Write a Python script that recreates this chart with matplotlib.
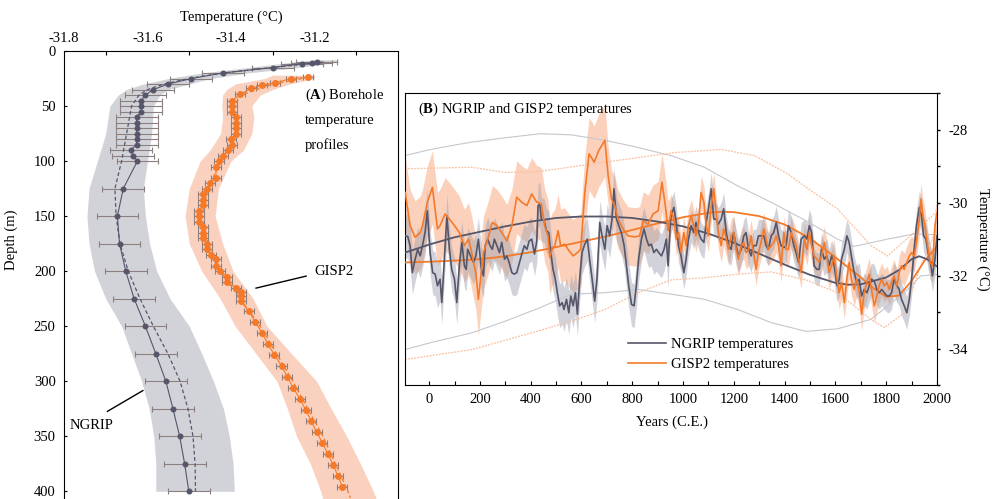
import numpy as np
import matplotlib
matplotlib.use("Agg")
import matplotlib.pyplot as plt
from matplotlib.ticker import MultipleLocator, FixedLocator

plt.rcParams["font.family"] = ["Liberation Serif", "DejaVu Serif"]
plt.rcParams["mathtext.fontset"] = "custom"
plt.rcParams["mathtext.rm"] = "Liberation Serif"
plt.rcParams["mathtext.bf"] = "Liberation Serif:bold"
plt.rcParams["axes.unicode_minus"] = False

# ---------------- Panel A: borehole temperature profiles ----------------
ngrip_depth = [10, 10.7, 11.5, 15, 20, 25, 30, 35, 40, 45, 50, 55, 60, 65, 70, 75, 80, 85,
               90, 95, 100, 125, 150, 175, 200, 225, 250, 275, 300, 325, 350, 375, 400]
ngrip_temp = [-31.195, -31.207, -31.23, -31.30, -31.42, -31.495, -31.55, -31.586, -31.605,
              -31.615, -31.615, -31.615, -31.626, -31.626, -31.626, -31.626, -31.626, -31.626,
              -31.64, -31.635, -31.624, -31.658, -31.672, -31.667, -31.652, -31.632, -31.605,
              -31.58, -31.556, -31.539, -31.523, -31.511, -31.501]
ngrip_xerr = 0.05

ngrip_fit_depth = [10, 15, 20, 25, 30, 35, 40, 50, 75, 100, 125, 150, 175, 200, 225, 250,
                   275, 300, 325, 350, 375, 400]
ngrip_fit_temp = [-31.18, -31.30, -31.42, -31.50, -31.56, -31.60, -31.62, -31.638, -31.65,
                  -31.662, -31.678, -31.675, -31.666, -31.646, -31.618, -31.586, -31.551,
                  -31.522, -31.503, -31.491, -31.486, -31.485]

ngrip_band_depth = [8, 10, 15, 20, 25, 30, 35, 40, 50, 75, 100, 125, 150, 175, 200, 225, 250,
                    275, 300, 325, 350, 375, 400]
ngrip_band_lo = [-31.20, -31.25, -31.36, -31.47, -31.55, -31.61, -31.65, -31.67, -31.69,
                 -31.70, -31.72, -31.74, -31.745, -31.74, -31.727, -31.70, -31.662, -31.638,
                 -31.614, -31.596, -31.585, -31.58, -31.58]
ngrip_band_hi = [-31.15, -31.14, -31.24, -31.36, -31.45, -31.50, -31.55, -31.57, -31.586,
                 -31.59, -31.60, -31.61, -31.605, -31.595, -31.578, -31.546, -31.50, -31.47,
                 -31.442, -31.418, -31.404, -31.395, -31.392]

gisp_depth = [24, 25, 29, 31, 34, 39.5, 45, 50, 55, 60, 65, 70, 75, 80, 85, 90, 95, 100, 105,
              115, 120, 125, 130, 135, 140, 145, 150, 155, 160, 165, 170, 175, 180, 185, 189,
              195, 200, 205, 210, 215, 219, 223, 227, 236, 246, 256, 266, 276, 286, 296, 306,
              316, 326, 336, 346, 356, 366, 376, 386, 396]
gisp_temp = [-31.215, -31.256, -31.295, -31.325, -31.353, -31.378, -31.397, -31.397, -31.397,
             -31.388, -31.388, -31.387, -31.387, -31.40, -31.397, -31.406, -31.418, -31.429,
             -31.436, -31.436, -31.45, -31.457, -31.467, -31.467, -31.467, -31.477, -31.477,
             -31.477, -31.467, -31.467, -31.467, -31.457, -31.457, -31.448, -31.437, -31.437,
             -31.426, -31.409, -31.409, -31.388, -31.377, -31.377, -31.377, -31.358, -31.342,
             -31.326, -31.312, -31.296, -31.279, -31.265, -31.251, -31.235, -31.221, -31.208,
             -31.195, -31.181, -31.168, -31.155, -31.144, -31.133]
gisp_xerr = 0.012

gisp_fit_depth = [24, 30, 40, 50, 75, 100, 125, 150, 175, 200, 225, 250, 300, 350, 400, 406]
gisp_fit_temp = [-31.215, -31.30, -31.375, -31.392, -31.385, -31.425, -31.455, -31.47,
                 -31.455, -31.425, -31.378, -31.33, -31.252, -31.18, -31.12, -31.114]

gisp_band_depth = [22, 25, 30, 35, 40, 50, 60, 75, 90, 100, 125, 150, 175, 200, 225, 250, 275,
                   300, 325, 350, 375, 400, 407]
gisp_band_lo = [-31.30, -31.32, -31.39, -31.41, -31.42, -31.422, -31.42, -31.425, -31.45,
                -31.474, -31.50, -31.51, -31.50, -31.47, -31.426, -31.39, -31.34, -31.29,
                -31.265, -31.243, -31.21, -31.185, -31.18]
gisp_band_hi = [-31.20, -31.20, -31.26, -31.30, -31.33, -31.35, -31.345, -31.35, -31.37,
                -31.40, -31.43, -31.438, -31.42, -31.395, -31.347, -31.314, -31.255, -31.195,
                -31.16, -31.123, -31.09, -31.059, -31.052]

# ---------------- Panel B: NGRIP and GISP2 temperature series ----------------
ngrip_years = [-94, -84, -75, -66, -55, -45, -35, -26, -16, -7, 4, 14, 24, 33, 43, 50, 60, 70,
               80, 89, 100, 109, 119, 129, 139, 146, 152, 163, 175, 184, 194, 205, 214, 221,
               231, 240, 249, 257, 267, 277, 286, 297, 306, 315, 326, 335, 345, 356, 365, 375,
               385, 394, 404, 415, 424,
               429, 436, 442, 453, 462, 471, 479, 488, 497, 505, 514, 524, 531, 541, 550, 558,
               567, 576, 584, 593, 602, 613, 623, 632, 642, 652, 661, 672, 681, 692, 701, 711,
               720, 728, 738, 747, 757, 768, 777, 786, 797, 807, 816, 825, 836, 846, 856, 865,
               875, 885, 895, 904, 915, 925, 934, 941, 950,
               953, 964, 973, 982, 992, 1003, 1012, 1021, 1032, 1042, 1051, 1061, 1071, 1082,
               1091, 1100, 1111, 1121, 1130, 1139, 1150, 1160, 1170, 1179, 1189, 1199, 1209,
               1218, 1229, 1239, 1248, 1258, 1268, 1277, 1288, 1297, 1307, 1318, 1327, 1336,
               1347, 1357, 1367, 1376, 1386, 1397, 1406, 1415, 1426, 1436, 1445, 1455, 1465,
               1477, 1488, 1497, 1506, 1516, 1527, 1536, 1545, 1556, 1566, 1575, 1585, 1595,
               1606, 1615, 1624, 1635, 1645, 1654, 1663, 1674, 1684, 1694, 1703, 1713, 1724,
               1733, 1742, 1753, 1763, 1772, 1782, 1792, 1803, 1812, 1821, 1831, 1842, 1851,
               1860, 1871, 1881, 1891, 1900, 1910, 1919, 1930, 1939, 1947, 1956, 1965, 1976,
               1982, 1992, 2000]
ngrip_temps = [-30.91, -30.93, -31.18, -31.92, -31.55, -31.28, -31.46, -31.18, -30.82, -30.22,
               -31.37, -31.92, -31.96, -32.28, -32.10, -32.74, -31.55, -30.36, -31.28, -31.83,
               -32.10, -32.74, -31.73, -31.09, -31.73, -31.83, -31.28, -31.46, -31.64, -31.46,
               -31.00, -31.78, -32.01, -31.18, -31.00, -31.18, -31.28, -31.00, -31.18, -31.37,
               -31.09, -31.55, -31.46, -31.64, -31.92, -31.96, -31.92, -31.64, -31.41, -31.18,
               -31.28, -31.05, -31.00, -31.41, -31.05,
               -30.08, -30.04, -30.45, -30.50, -30.77, -30.82, -31.37, -31.83, -32.10, -32.47,
               -32.83, -32.74, -32.93, -32.65, -33.02, -32.56, -32.83, -32.47, -33.06, -32.10,
               -31.37, -31.14, -31.00, -31.55, -32.10, -32.70, -32.10, -30.54, -30.91, -31.28,
               -30.63, -30.91, -30.45, -29.62, -30.45, -30.63, -30.82, -31.18, -31.73, -32.28,
               -32.79, -32.83, -32.28, -31.55, -31.00, -30.72, -31.00, -31.18, -31.14, -31.37,
               -31.28, -31.37, -31.46, -31.28, -31.00, -31.73, -30.54,
               -30.36, -30.13, -30.54, -31.18, -31.46, -31.92, -31.55, -31.00, -30.63, -30.82,
               -30.54, -30.82, -31.00, -31.09, -30.54, -30.17, -29.62, -30.45, -30.45, -30.59,
               -30.45, -30.17, -30.82, -31.18, -31.28, -30.82, -31.18, -31.46, -31.28, -30.91,
               -30.82, -31.28, -31.46, -31.18, -31.18, -30.91, -30.91, -30.91, -31.18, -31.28,
               -30.91, -30.82, -30.54, -30.91, -31.18, -31.23, -31.18, -30.63, -30.82, -31.18,
               -31.37, -31.64, -31.00,
               -30.91, -31.00, -30.63, -30.82, -31.73, -31.83, -31.83, -31.28, -31.55, -31.46,
               -31.73, -31.46, -31.73, -32.28, -32.10, -31.55, -31.28, -30.91, -31.09, -31.46,
               -31.92, -32.19, -32.10, -32.56, -32.38, -32.47, -32.28, -32.10, -32.15, -32.38,
               -32.47, -32.38, -32.47, -32.56, -32.56, -32.47, -32.10, -32.28, -32.38, -32.65,
               -32.83, -33.02, -32.65, -32.10, -31.28, -30.63, -30.13, -30.36, -30.91, -31.00,
               -31.37, -31.73, -32.01, -31.55, -30.91]
ngrip_err_early, ngrip_err_late = 0.6, 0.45

gisp_years = [-94, -75, -55, -35, -26, -7, 13, 33, 43, 63, 80, 100, 119, 139, 155, 165, 175,
              184, 194, 205, 214, 231, 249, 267, 286, 306, 326, 345, 365, 385, 404, 424,
              429, 442, 455, 468, 475, 484, 495, 508, 518, 534, 547, 567, 584, 597, 613, 630,
              650, 668, 692, 705, 718, 731, 744, 764, 783, 810, 829, 843, 862, 882, 902, 917,
              931, 941,
              953, 964, 973, 982, 992, 1003, 1012, 1021, 1032, 1042, 1051, 1061, 1071, 1082,
              1091, 1100, 1111, 1121, 1130, 1139, 1150, 1160, 1170, 1179, 1189, 1199, 1209,
              1218, 1229, 1239, 1248, 1258, 1268, 1277, 1288, 1297, 1307, 1318, 1327, 1336,
              1347, 1357, 1367, 1376, 1386, 1397, 1406, 1415, 1426, 1436, 1445, 1455, 1465,
              1477, 1488, 1497, 1506, 1516, 1527, 1536, 1545, 1556, 1566, 1575, 1585, 1595,
              1606, 1615, 1624, 1635, 1645, 1654, 1663, 1674, 1684, 1694, 1703, 1713, 1724,
              1733, 1742, 1753, 1763, 1772, 1782, 1792, 1803, 1812, 1821, 1831, 1842, 1851,
              1860, 1871, 1881, 1891, 1900, 1910, 1919, 1930, 1937, 1943, 1952, 1963, 1973,
              1982, 1992, 2000]
gisp_temps = [-29.72, -30.63, -30.95, -30.82, -30.63, -29.99, -29.58, -30.72, -30.63, -30.31,
              -30.45, -30.63, -30.82, -31.18, -31.00, -31.28, -31.64, -31.92, -32.65, -31.92,
              -31.37, -31.00, -30.54, -30.63, -30.82, -31.05, -30.63, -29.85, -29.99, -30.08,
              -29.76, -29.99,
              -29.99, -30.04, -30.63, -30.91, -31.50, -31.28, -31.18, -30.77, -31.18, -31.14,
              -31.28, -31.46, -31.37, -31.28, -29.72, -28.66, -28.89, -28.57, -28.29, -29.26,
              -29.90, -30.08, -30.45, -30.72, -30.91, -30.94, -30.91, -30.50, -30.59, -30.31,
              -30.22, -29.44, -30.13, -30.77,
              -30.22, -30.45, -31.00, -30.82, -31.37, -30.82, -31.18, -30.63, -30.36, -30.63,
              -30.91, -30.54, -29.72, -29.99, -30.63, -30.91, -30.08, -29.62, -30.27, -30.82,
              -31.18, -30.72, -31.00, -31.28, -30.91, -30.82, -31.28, -31.55, -31.18, -31.09,
              -31.37, -31.28, -30.91, -31.37, -31.83, -31.37, -31.09, -30.72, -31.00, -31.28,
              -31.18, -31.09, -30.91, -31.18, -31.73, -30.82, -31.28, -31.28, -30.82, -31.00,
              -31.18, -31.55, -31.92,
              -31.00, -31.28, -30.82, -31.18, -31.46, -31.55, -31.64, -31.46, -31.09, -31.46,
              -31.92, -31.73, -31.46, -32.10, -32.47, -32.19, -32.74, -32.10, -31.64, -32.10,
              -32.38, -32.10, -32.47, -33.06, -32.47, -32.19, -31.96, -32.38, -32.83, -32.56,
              -32.28, -32.10, -32.28, -32.19, -32.38, -32.19, -32.01, -32.28, -31.92, -31.73,
              -31.83, -31.64, -31.46, -31.37, -31.46, -31.09, -30.45, -29.90, -30.27, -30.63,
              -31.18, -31.64, -31.73, -30.63, -30.27]
gisp_err_early, gisp_err_mid, gisp_err_late = 1.0, 0.8, 0.45

ngrip_smooth_years = [-95, 0, 100, 200, 300, 400, 500, 600, 700, 800, 900, 1000, 1100, 1200,
                      1300, 1400, 1500, 1600, 1650, 1700, 1800, 1850, 1900, 1930, 1960, 2000]
ngrip_smooth = [-31.37, -31.15, -30.95, -30.8, -30.65, -30.52, -30.42, -30.38, -30.38, -30.42,
                -30.52, -30.65, -30.85, -31.1, -31.4, -31.7, -31.98, -32.2, -32.25, -32.24,
                -32.05, -31.85, -31.55, -31.47, -31.55, -31.75]

gisp_smooth_years = [-95, 0, 100, 200, 300, 400, 500, 600, 700, 800, 900, 1000, 1100, 1150,
                     1200, 1300, 1400, 1500, 1600, 1700, 1750, 1800, 1850, 1900, 1950, 2000]
gisp_smooth = [-31.64, -31.62, -31.59, -31.55, -31.47, -31.36, -31.22, -31.07, -30.92, -30.75,
               -30.57, -30.4, -30.28, -30.25, -30.26, -30.37, -30.6, -30.98, -31.5, -32.05,
               -32.35, -32.58, -32.55, -32.15, -31.6, -31.2]

ngrip_hi_years = [-95, 0, 100, 168, 300, 437, 560, 692, 800, 953, 1084, 1215, 1347, 1485,
                  1608, 1674, 1805, 1910, 2000]
ngrip_hi = [-28.71, -28.55, -28.42, -28.34, -28.22, -28.11, -28.14, -28.29, -28.45, -28.71,
            -29.03, -29.54, -29.99, -30.50, -31.0, -31.2, -31.0, -30.86, -30.88]
ngrip_lo_years = [-95, 0, 168, 300, 437, 560, 692, 823, 953, 1084, 1215, 1347, 1485, 1608,
                  1740, 1871, 1936, 2000]
ngrip_lo = [-34.03, -33.85, -33.57, -33.25, -32.88, -32.51, -32.47, -32.38, -32.51, -32.65,
            -32.93, -33.29, -33.53, -33.46, -33.2, -32.47, -32.01, -31.97]
gisp_hi_years = [-95, 168, 299, 429, 692, 961, 1150, 1281, 1412, 1485, 1608, 1740, 1805,
                 1910, 1990]
gisp_hi = [-29.07, -29.03, -29.17, -29.15, -28.89, -28.63, -28.54, -28.71, -29.21, -29.58,
           -30.17, -31.18, -31.46, -30.82, -30.3]
gisp_lo_years = [-95, 168, 429, 560, 692, 823, 953, 1084, 1215, 1347, 1485, 1608, 1740, 1792,
                 1871, 1936, 2000]
gisp_lo = [-34.3, -34.03, -33.52, -33.25, -32.93, -32.47, -32.12, -32.06, -31.96, -31.9,
           -32.12, -32.47, -33.2, -33.43, -33.02, -31.74, -30.7]

dark = "#55566a"
orange = "#f47a2a"
bar_col = "#8c7f80"
fs = 10.5

fig = plt.figure(figsize=(9.98, 4.99), dpi=100)

# ---------------- Panel A ----------------
axa = fig.add_axes([0.0641, 0.0, 0.3347, 0.8978])
axa.fill_betweenx(ngrip_band_depth, ngrip_band_lo, ngrip_band_hi, color="#d2d3d8", lw=0, zorder=1)
axa.fill_betweenx(gisp_band_depth, gisp_band_lo, gisp_band_hi, color="#fad1bf", lw=0, zorder=1)
axa.plot(ngrip_fit_temp, ngrip_fit_depth, color=dark, lw=0.9, ls=(0, (3, 2)), zorder=3)
axa.plot(gisp_fit_temp, gisp_fit_depth, color=orange, lw=0.9, ls=(0, (3, 2)), zorder=3)
axa.errorbar(ngrip_temp, ngrip_depth, xerr=ngrip_xerr, fmt="none", ecolor=bar_col,
             elinewidth=0.8, capsize=2, capthick=0.8, zorder=2)
axa.plot(ngrip_temp, ngrip_depth, color=dark, lw=0.8, marker="o", ms=3.3, zorder=4)
axa.errorbar(gisp_temp, gisp_depth, xerr=gisp_xerr, fmt="none", ecolor=bar_col,
             elinewidth=0.8, capsize=2, capthick=0.8, zorder=2)
axa.plot(gisp_temp, gisp_depth, color=orange, lw=0.8, marker="o", ms=4, zorder=4)

axa.set_xlim(-31.8, -31.0)
axa.set_ylim(407, 0)
axa.xaxis.tick_top()
axa.xaxis.set_label_position("top")
axa.xaxis.set_major_locator(FixedLocator([-31.8, -31.6, -31.4, -31.2]))
axa.xaxis.set_minor_locator(FixedLocator([-31.7, -31.5, -31.3, -31.1]))
axa.xaxis.set_major_formatter(plt.FuncFormatter(lambda v, p: f"{v:.1f}"))
axa.tick_params(axis="x", which="major", length=0, labelsize=fs, pad=4)
axa.tick_params(axis="x", which="minor", direction="in", length=3, width=0.8)
axa.yaxis.set_major_locator(MultipleLocator(50))
axa.tick_params(axis="y", direction="in", length=2, labelsize=fs, pad=6)
axa.spines["bottom"].set_visible(False)
axa.set_xlabel("Temperature (°C)", fontsize=fs)
axa.xaxis.set_label_coords(0.5, 1.068)
axa.set_ylabel("Depth (m)", fontsize=fs)
axa.yaxis.set_label_coords(-0.138, 0.578)

axa.text(-31.223, 40.7, r"($\mathbf{A}$) Borehole", fontsize=fs, va="center", ha="left")
axa.text(-31.223, 63.3, "temperature", fontsize=fs, va="center", ha="left")
axa.text(-31.223, 85.9, "profiles", fontsize=fs, va="center", ha="left")
axa.text(-31.201, 200.6, "GISP2", fontsize=fs, va="center", ha="left")
axa.plot([-31.34, -31.22], [215.4, 204.5], color="black", lw=1.0)
axa.text(-31.786, 340.4, "NGRIP", fontsize=fs, va="center", ha="left")
axa.plot([-31.696, -31.611], [327.4, 308.5], color="black", lw=1.0)

# ---------------- Panel B ----------------
axb = fig.add_axes([0.4058, 0.2285, 0.5331, 0.5846])
ny = np.array(ngrip_years)
nt = np.array(ngrip_temps)
gy = np.array(gisp_years)
gt = np.array(gisp_temps)
n_err = np.where(ny < 950, ngrip_err_early, ngrip_err_late)
g_err = np.where(gy < 700, gisp_err_early, np.where(gy < 950, gisp_err_mid, gisp_err_late))

axb.fill_between(gy, gt - g_err, gt + g_err, color="#fba57a", alpha=0.5, lw=0, zorder=1)
axb.fill_between(ny, nt - n_err, nt + n_err, color="#9c9eae", alpha=0.45, lw=0, zorder=1.5)

axb.plot(ngrip_hi_years, ngrip_hi, color="#c6c7ce", lw=0.8, zorder=2)
axb.plot(ngrip_lo_years, ngrip_lo, color="#c6c7ce", lw=0.8, zorder=2)
axb.plot(gisp_hi_years, gisp_hi, color="#fabf9d", lw=0.9, ls=(0, (1.5, 1)), zorder=2)
axb.plot(gisp_lo_years, gisp_lo, color="#fabf9d", lw=0.9, ls=(0, (1.5, 1)), zorder=2)

axb.plot(gisp_smooth_years, gisp_smooth, color=orange, lw=1.3, zorder=3)
axb.plot(ngrip_smooth_years, ngrip_smooth, color=dark, lw=1.3, zorder=3)
axb.plot(ny, nt, color=dark, lw=1.2, zorder=4, label="NGRIP temperatures")
axb.plot(gy, gt, color=orange, lw=1.2, zorder=4.5, label="GISP2 temperatures")

axb.set_xlim(-95, 2000)
axb.set_ylim(-35, -27)
axb.xaxis.set_major_locator(MultipleLocator(200))
axb.xaxis.set_minor_locator(MultipleLocator(100))
axb.tick_params(axis="x", which="both", direction="in", length=3, width=0.8, labelsize=fs, pad=6)
axb.yaxis.tick_right()
axb.yaxis.set_label_position("right")
axb.yaxis.set_major_locator(FixedLocator([-34, -32, -30, -28]))
axb.yaxis.set_minor_locator(FixedLocator([-35, -33, -31, -29, -27]))
axb.tick_params(axis="y", which="both", direction="out", length=2, width=1.0, labelsize=fs, pad=6)
axb.set_xlabel("Years (C.E.)", fontsize=fs)
axb.xaxis.set_label_coords(0.502, -0.105)
axb.set_ylabel("Temperature (°C)", fontsize=fs, rotation=270, va="center")
axb.yaxis.set_label_coords(1.0865, 0.5)
axb.text(0.0244, 0.946, r"($\mathbf{B}$) NGRIP and GISP2 temperatures", fontsize=fs,
         transform=axb.transAxes, va="center", ha="left")
axb.legend(loc="upper left", bbox_to_anchor=(0.4186, 0.162), frameon=False, fontsize=fs,
           handlelength=2.65, handletextpad=0.3, labelspacing=0.45, borderpad=0,
           borderaxespad=0)

fig.savefig("out.png", dpi=100)
